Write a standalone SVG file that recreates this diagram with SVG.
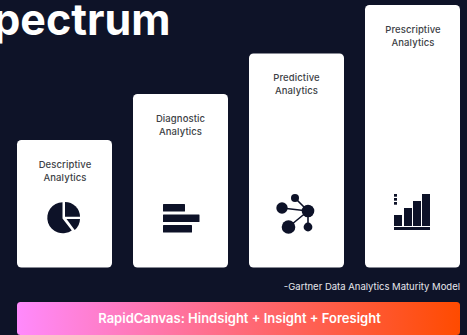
<svg xmlns="http://www.w3.org/2000/svg" width="467" height="335" viewBox="0 0 467 335">
<style>
.card{fill:#fff}
.lbl{font-family:Inter,"Liberation Sans",sans-serif;font-size:9.500px;font-weight:500;fill:#3d3f46;text-anchor:middle;letter-spacing:.1px}
.ico{fill:#0d1228}
</style>
<defs><linearGradient id="g" x1="0" x2="1" y1="0" y2="0"><stop offset="0" stop-color="#ff8afc"/><stop offset=".5" stop-color="#ff6a7c"/><stop offset="1" stop-color="#ff4b00"/></linearGradient></defs>
<rect width="467" height="335" fill="#0e1328"/>
<text x="170.500" y="35" text-anchor="end" font-family="Inter,'Liberation Sans',sans-serif" font-size="43" font-weight="700" fill="#fff">pectrum</text>
<g id="descriptive"><rect class="card" x="17" y="140" width="95" height="127.500" rx="4.500"/><text class="lbl" x="65" y="168">Descriptive</text><text class="lbl" x="65" y="180.500">Analytics</text>
<path class="ico" d="M62.500 202.300A15.500 15.500 0 1 0 71.800 230.400L62.500 218.500Z"/><path class="ico" d="M65 202A15 15 0 0 1 80 216.700H65Z"/><path class="ico" d="M66.500 219H80A15 15 0 0 1 74.700 230Z"/></g>
<g id="diagnostic"><rect class="card" x="133" y="94" width="95" height="173.500" rx="4.500"/><text class="lbl" x="180.500" y="122">Diagnostic</text><text class="lbl" x="180.500" y="134.500">Analytics</text>
<rect class="ico" x="163" y="204" width="22" height="7.500" rx=".5"/><rect class="ico" x="163" y="214.500" width="36.500" height="7.500" rx=".5"/><rect class="ico" x="163" y="225" width="29" height="7.500" rx=".5"/></g>
<g id="predictive"><rect class="card" x="249" y="53.500" width="95" height="214" rx="4.500"/><text class="lbl" x="296.500" y="81">Predictive</text><text class="lbl" x="296.500" y="93.500">Analytics</text>
<g class="ico"><circle cx="295" cy="198" r="4"/><circle cx="282" cy="208" r="5.700"/><circle cx="308" cy="211" r="6.300"/><circle cx="288.500" cy="227" r="6.800"/><circle cx="308" cy="227" r="4.400"/><path d="M295 198L308 211M282 208L308 211M288.500 227L308 211M308 211V227" stroke="#0d1228" stroke-width="1.600" fill="none"/></g></g>
<g id="prescriptive"><rect class="card" x="365" y="5" width="95" height="262.500" rx="4.500"/><text class="lbl" x="413" y="33">Prescriptive</text><text class="lbl" x="413" y="45.500">Analytics</text>
<g class="ico"><rect x="394" y="215" width="8" height="11"/><rect x="404" y="208" width="8" height="18"/><rect x="413" y="201" width="8" height="25"/><rect x="422" y="194" width="8" height="32"/><rect x="394" y="227" width="36" height="3"/><rect x="394" y="194" width="3" height="2.700"/><rect x="394" y="198" width="3" height="2.700"/><rect x="394" y="202" width="3" height="2.700"/></g></g>
<text x="460" y="290" text-anchor="end" font-family="Inter,'Liberation Sans',sans-serif" font-size="9.500" fill="#e6e7ec">-Gartner Data Analytics Maturity Model</text>
<g id="banner"><rect x="17" y="302" width="443" height="33" rx="3.500" fill="url(#g)"/><text x="239.500" y="323" text-anchor="middle" font-family="Inter,'Liberation Sans',sans-serif" font-size="13" font-weight="600" fill="#fff">RapidCanvas: Hindsight + Insight + Foresight</text></g>
</svg>
